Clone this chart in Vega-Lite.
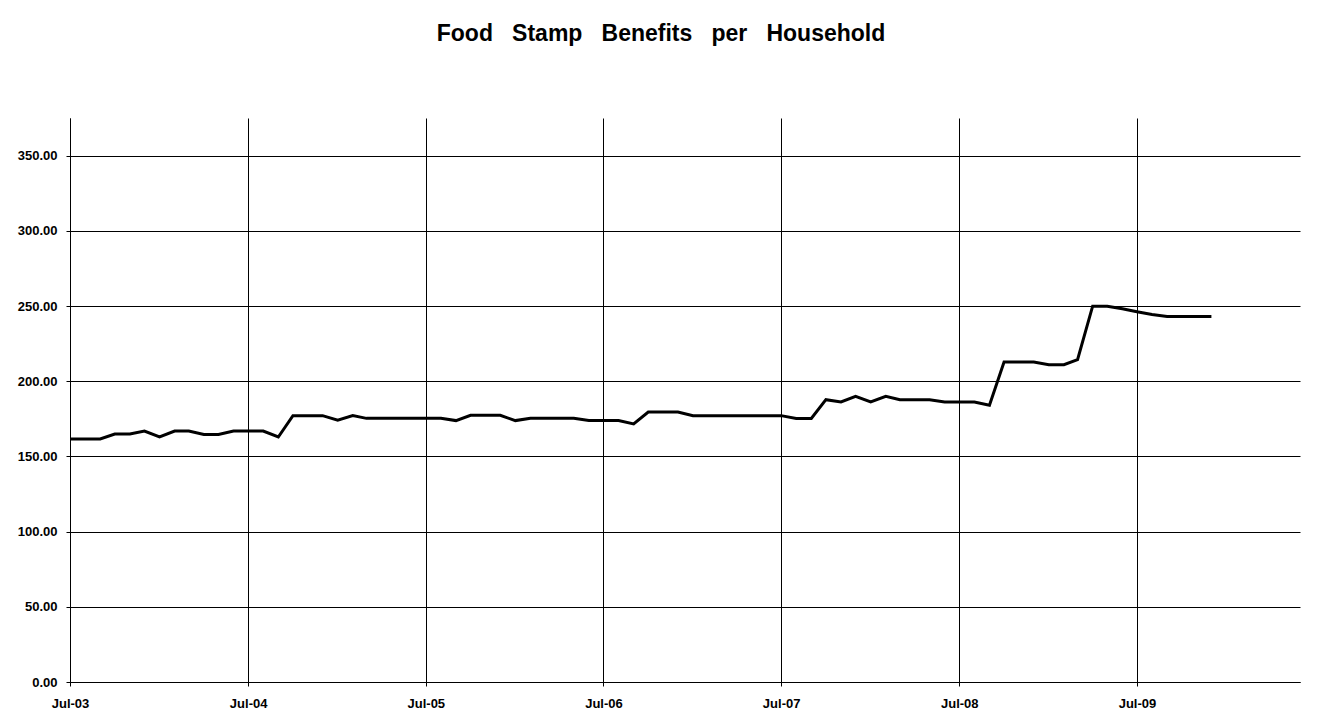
{
  "$schema": "https://vega.github.io/schema/vega-lite/v6.json",
  "width": 1230,
  "height": 564,
  "autosize": {"type": "none"},
  "padding": {"left": 70, "top": 118, "right": 23, "bottom": 38},
  "background": "white",
  "title": {
    "text": "Food\u00a0\u00a0\u00a0Stamp\u00a0\u00a0\u00a0Benefits\u00a0\u00a0\u00a0per\u00a0\u00a0\u00a0Household",
    "font": "Liberation Sans",
    "fontSize": 23,
    "fontWeight": "bold",
    "color": "black",
    "anchor": "middle",
    "dx": -24,
    "offset": 72
  },
  "data": {
    "values": [
      {"month": "2003-07-01", "benefit": 161.6},
      {"month": "2003-08-01", "benefit": 161.6},
      {"month": "2003-09-01", "benefit": 161.6},
      {"month": "2003-10-01", "benefit": 164.9},
      {"month": "2003-11-01", "benefit": 164.9},
      {"month": "2003-12-01", "benefit": 166.9},
      {"month": "2004-01-01", "benefit": 162.9},
      {"month": "2004-02-01", "benefit": 166.9},
      {"month": "2004-03-01", "benefit": 166.9},
      {"month": "2004-04-01", "benefit": 164.6},
      {"month": "2004-05-01", "benefit": 164.6},
      {"month": "2004-06-01", "benefit": 166.9},
      {"month": "2004-07-01", "benefit": 166.9},
      {"month": "2004-08-01", "benefit": 166.9},
      {"month": "2004-09-01", "benefit": 162.9},
      {"month": "2004-10-01", "benefit": 177.1},
      {"month": "2004-11-01", "benefit": 177.1},
      {"month": "2004-12-01", "benefit": 177.1},
      {"month": "2005-01-01", "benefit": 174.0},
      {"month": "2005-02-01", "benefit": 177.1},
      {"month": "2005-03-01", "benefit": 175.3},
      {"month": "2005-04-01", "benefit": 175.3},
      {"month": "2005-05-01", "benefit": 175.3},
      {"month": "2005-06-01", "benefit": 175.3},
      {"month": "2005-07-01", "benefit": 175.3},
      {"month": "2005-08-01", "benefit": 175.3},
      {"month": "2005-09-01", "benefit": 173.8},
      {"month": "2005-10-01", "benefit": 177.3},
      {"month": "2005-11-01", "benefit": 177.3},
      {"month": "2005-12-01", "benefit": 177.3},
      {"month": "2006-01-01", "benefit": 173.8},
      {"month": "2006-02-01", "benefit": 175.3},
      {"month": "2006-03-01", "benefit": 175.3},
      {"month": "2006-04-01", "benefit": 175.3},
      {"month": "2006-05-01", "benefit": 175.3},
      {"month": "2006-06-01", "benefit": 173.8},
      {"month": "2006-07-01", "benefit": 173.8},
      {"month": "2006-08-01", "benefit": 173.8},
      {"month": "2006-09-01", "benefit": 171.6},
      {"month": "2006-10-01", "benefit": 179.5},
      {"month": "2006-11-01", "benefit": 179.5},
      {"month": "2006-12-01", "benefit": 179.5},
      {"month": "2007-01-01", "benefit": 177.1},
      {"month": "2007-02-01", "benefit": 177.1},
      {"month": "2007-03-01", "benefit": 177.1},
      {"month": "2007-04-01", "benefit": 177.1},
      {"month": "2007-05-01", "benefit": 177.1},
      {"month": "2007-06-01", "benefit": 177.1},
      {"month": "2007-07-01", "benefit": 177.1},
      {"month": "2007-08-01", "benefit": 175.2},
      {"month": "2007-09-01", "benefit": 175.2},
      {"month": "2007-10-01", "benefit": 187.7},
      {"month": "2007-11-01", "benefit": 186.2},
      {"month": "2007-12-01", "benefit": 190.0},
      {"month": "2008-01-01", "benefit": 186.2},
      {"month": "2008-02-01", "benefit": 190.0},
      {"month": "2008-03-01", "benefit": 187.7},
      {"month": "2008-04-01", "benefit": 187.7},
      {"month": "2008-05-01", "benefit": 187.7},
      {"month": "2008-06-01", "benefit": 186.2},
      {"month": "2008-07-01", "benefit": 186.2},
      {"month": "2008-08-01", "benefit": 186.2},
      {"month": "2008-09-01", "benefit": 184.0},
      {"month": "2008-10-01", "benefit": 212.7},
      {"month": "2008-11-01", "benefit": 212.7},
      {"month": "2008-12-01", "benefit": 212.7},
      {"month": "2009-01-01", "benefit": 211.0},
      {"month": "2009-02-01", "benefit": 211.0},
      {"month": "2009-03-01", "benefit": 214.3},
      {"month": "2009-04-01", "benefit": 249.9},
      {"month": "2009-05-01", "benefit": 249.9},
      {"month": "2009-06-01", "benefit": 248.2},
      {"month": "2009-07-01", "benefit": 246.2},
      {"month": "2009-08-01", "benefit": 244.4},
      {"month": "2009-09-01", "benefit": 243.1},
      {"month": "2009-10-01", "benefit": 243.0},
      {"month": "2009-11-01", "benefit": 243.0},
      {"month": "2009-12-01", "benefit": 243.0}
    ]
  },
  "mark": {"type": "line", "color": "black", "strokeWidth": 3, "strokeJoin": "miter"},
  "encoding": {
    "x": {
      "field": "month",
      "type": "temporal",
      "scale": {
        "type": "utc",
        "domain": [
          {"year": 2003, "month": 7, "date": 1, "utc": true},
          {"year": 2010, "month": 6, "date": 1, "utc": true}
        ]
      },
      "axis": {
        "title": null,
        "values": [
          {"year": 2003, "month": 7, "date": 1, "utc": true},
          {"year": 2004, "month": 7, "date": 1, "utc": true},
          {"year": 2005, "month": 7, "date": 1, "utc": true},
          {"year": 2006, "month": 7, "date": 1, "utc": true},
          {"year": 2007, "month": 7, "date": 1, "utc": true},
          {"year": 2008, "month": 7, "date": 1, "utc": true},
          {"year": 2009, "month": 7, "date": 1, "utc": true}
        ],
        "labelExpr": "utcFormat(datum.value, '%b-%y')",
        "grid": true,
        "gridColor": "black",
        "gridOpacity": 1,
        "gridWidth": 1,
        "domainColor": "black",
        "domainWidth": 1,
        "tickColor": "black",
        "tickSize": 4,
        "labelFont": "Liberation Sans",
        "labelFontSize": 13,
        "labelFontWeight": "bold",
        "labelColor": "black",
        "labelPadding": 11,
        "labelFlush": false,
        "labelOverlap": false
      }
    },
    "y": {
      "field": "benefit",
      "type": "quantitative",
      "scale": {"domain": [0, 375], "nice": false, "zero": true},
      "axis": {
        "title": null,
        "values": [0, 50, 100, 150, 200, 250, 300, 350],
        "format": ".2f",
        "grid": true,
        "gridColor": "black",
        "gridOpacity": 1,
        "gridWidth": 1,
        "domainColor": "black",
        "domainWidth": 1,
        "tickColor": "black",
        "tickSize": 4,
        "labelFont": "Liberation Sans",
        "labelFontSize": 13,
        "labelFontWeight": "bold",
        "labelColor": "black",
        "labelPadding": 9,
        "labelOverlap": false
      }
    }
  },
  "config": {"view": {"stroke": null}}
}
